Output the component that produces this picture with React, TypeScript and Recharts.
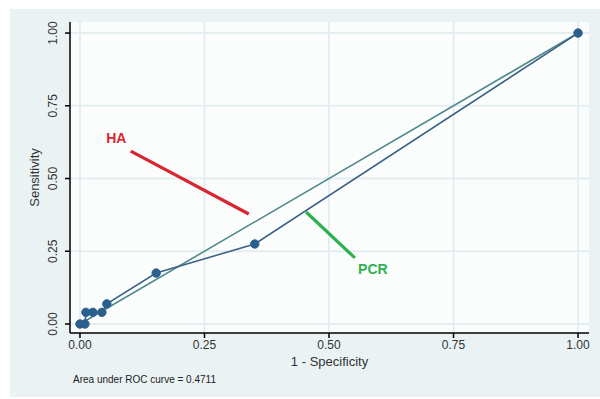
import React from 'react';
import {
  ComposedChart,
  Line,
  XAxis,
  YAxis,
  CartesianGrid,
  ReferenceLine,
  ReferenceDot,
} from 'recharts';

// ROC curve points (1 - specificity, sensitivity)
const rocFpr = [0, 0.01, 0.012, 0.026, 0.044, 0.054, 0.153, 0.351, 1];
const rocTpr = [0, 0, 0.04, 0.04, 0.04, 0.069, 0.175, 0.275, 1];

// chance diagonal
const diagFpr = [0, 1];
const diagTpr = [0, 1];

const ticks = [0, 0.25, 0.5, 0.75, 1];
const tickLabels = ['0.00', '0.25', '0.50', '0.75', '1.00'];

// annotation arrows (data units)
const haArrow = [
  { x: 0.102, y: 0.594 },
  { x: 0.339, y: 0.378 },
];
const haLabel = { x: 0.073, y: 0.64, text: 'HA' };
const pcrArrow = [
  { x: 0.454, y: 0.385 },
  { x: 0.552, y: 0.227 },
];
const pcrLabel = { x: 0.588, y: 0.19, text: 'PCR' };

const aucText = 'Area under ROC curve = 0.4711';

const rocData = rocFpr.map((x, i) => ({ x, y: rocTpr[i] }));
const diagData = diagFpr.map((x, i) => ({ x, y: diagTpr[i] }));

const font = '"Liberation Sans", Arial, sans-serif';

const fmt = (v: number) => tickLabels[ticks.indexOf(v)] ?? String(v);

const YTick = (props: any) => {
  const { y, payload } = props;
  const cx = 53;
  return (
    <text
      x={cx}
      y={y}
      transform={`rotate(-90, ${cx}, ${y})`}
      textAnchor="middle"
      dominantBaseline="central"
      fontSize={12}
      fill="#333"
      fontFamily={font}
    >
      {fmt(payload.value)}
    </text>
  );
};

export default function App() {
  return (
    <div
      style={{
        position: 'absolute',
        left: 0,
        top: 0,
        width: 600,
        height: 399,
        background: '#fff',
        fontFamily: font,
      }}
    >
      <div
        style={{
          position: 'absolute',
          left: 10,
          top: 9,
          width: 590,
          height: 388,
          background: '#eaf2f3',
        }}
      />
      <div style={{ position: 'absolute', left: 0, top: 0 }}>
        <ComposedChart
          width={600}
          height={399}
          margin={{ top: 22, right: 11, left: 10, bottom: 36 }}
        >
          <CartesianGrid
            fill="#fbfdfd"
            stroke="#e4eef0"
            strokeWidth={2}
            horizontalValues={ticks}
            verticalValues={ticks}
          />
          <XAxis
            type="number"
            dataKey="x"
            domain={[-0.02, 1.022]}
            ticks={ticks}
            tickFormatter={fmt}
            allowDataOverflow
            height={30}
            tickSize={5}
            stroke="#000"
            strokeWidth={1.5}
            tick={{ fill: '#333', fontSize: 12, fontFamily: font }}
            label={{
              value: '1 - Specificity',
              position: 'insideBottom',
              offset: -3,
              fill: '#333',
              fontSize: 13,
              fontFamily: font,
            }}
          />
          <YAxis
            type="number"
            dataKey="y"
            domain={[-0.031, 1.038]}
            ticks={ticks}
            allowDataOverflow
            width={60}
            tickSize={5}
            stroke="#000"
            strokeWidth={1.5}
            tick={<YTick />}
            label={{
              value: 'Sensitivity',
              angle: -90,
              position: 'insideLeft',
              offset: 24,
              fill: '#333',
              fontSize: 13,
              fontFamily: font,
              style: { textAnchor: 'middle' },
            }}
          />
          <Line
            data={diagData}
            dataKey="y"
            type="linear"
            stroke="#4f8a8c"
            strokeWidth={1.6}
            dot={false}
            isAnimationActive={false}
          />
          <Line
            data={rocData}
            dataKey="y"
            type="linear"
            stroke="#3c6286"
            strokeWidth={1.6}
            dot={{ r: 4.2, fill: '#2b5f8c', stroke: '#2b5f8c', strokeWidth: 1 }}
            isAnimationActive={false}
          />
          <ReferenceLine
            segment={haArrow}
            stroke="#d8252f"
            strokeWidth={3.2}
          />
          <ReferenceLine
            segment={pcrArrow}
            stroke="#2eb04f"
            strokeWidth={3.2}
          />
          <ReferenceDot
            x={haLabel.x}
            y={haLabel.y}
            r={0}
            fill="none"
            stroke="none"
            label={{
              value: haLabel.text,
              position: 'center',
              fill: '#d8252f',
              fontSize: 14,
              fontWeight: 'bold',
              fontFamily: font,
            }}
          />
          <ReferenceDot
            x={pcrLabel.x}
            y={pcrLabel.y}
            r={0}
            fill="none"
            stroke="none"
            label={{
              value: pcrLabel.text,
              position: 'center',
              fill: '#2eb04f',
              fontSize: 14,
              fontWeight: 'bold',
              fontFamily: font,
            }}
          />
        </ComposedChart>
      </div>
      <div
        style={{
          position: 'absolute',
          left: 73,
          top: 374,
          fontSize: 10,
          color: '#222',
          whiteSpace: 'nowrap',
        }}
      >
        {aucText}
      </div>
    </div>
  );
}
